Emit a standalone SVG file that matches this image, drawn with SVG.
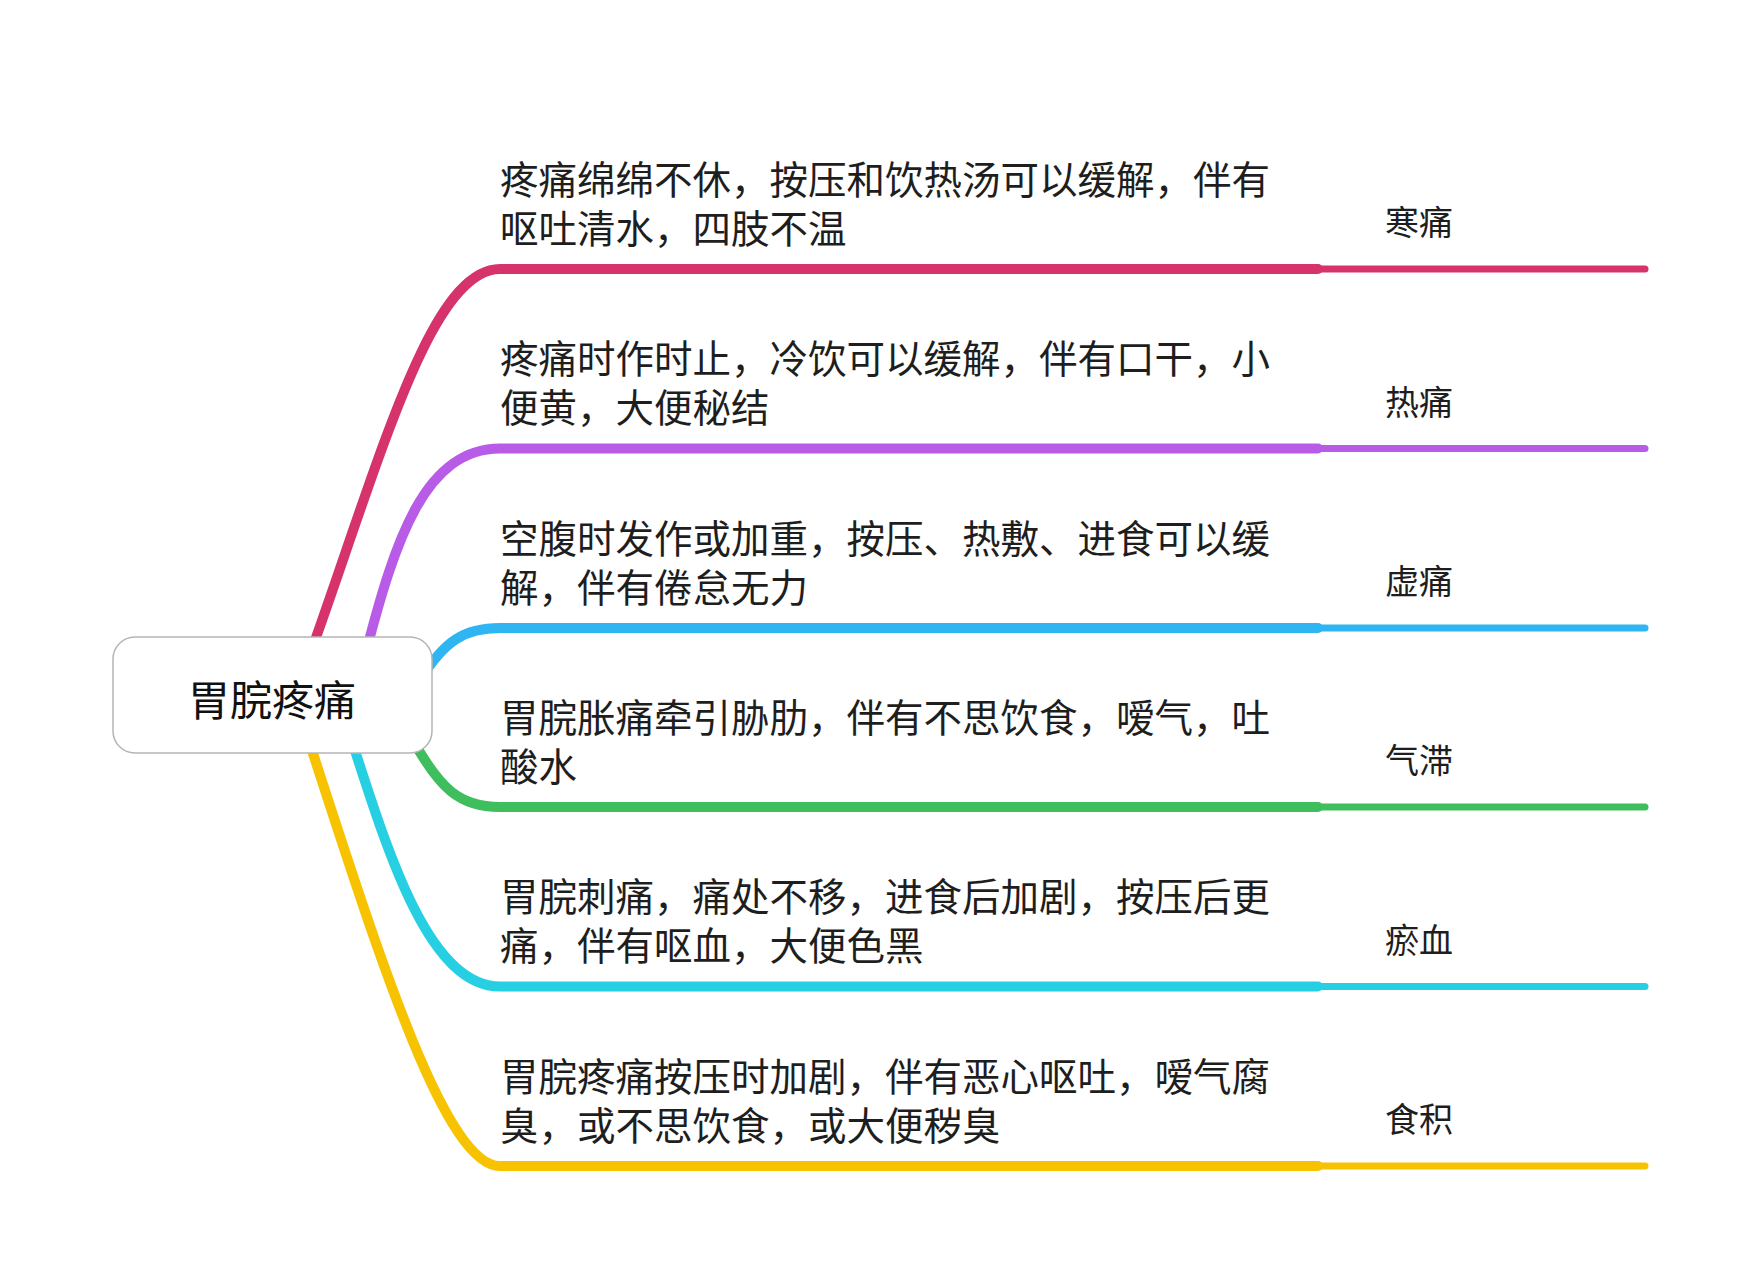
<svg xmlns="http://www.w3.org/2000/svg" width="1760" height="1280" viewBox="0 0 1760 1280">
<style>
.br{fill:none;stroke-width:10;stroke-linecap:round;stroke-linejoin:round}
.tail{fill:none;stroke-width:7;stroke-linecap:round}
.t{font-family:"Noto Sans CJK SC","Noto Sans",sans-serif;font-size:38.5px;fill:#1e1e1e}
.lb{font-family:"Noto Sans CJK SC","Noto Sans",sans-serif;font-size:34px;fill:#1e1e1e}
.title{font-family:"Noto Sans CJK SC","Noto Sans",sans-serif;font-size:42px;fill:#111;text-anchor:middle}
</style>
<rect width="1760" height="1280" fill="#ffffff"/>
<g id="connectors">
<path class="br" stroke="#d6336c" d="M308,660 C380,460 430,269 500,269 L1318,269"/>
<line class="tail" stroke="#d6336c" x1="1318" y1="269" x2="1645" y2="269"/>
<path class="br" stroke="#b85ce8" d="M366,652 C395,540 425,448.5 500,448.5 L1318,448.5"/>
<line class="tail" stroke="#b85ce8" x1="1318" y1="448.5" x2="1645" y2="448.5"/>
<path class="br" stroke="#2fb5f1" d="M420,680 C445,640 465,628 500,628 L1318,628"/>
<line class="tail" stroke="#2fb5f1" x1="1318" y1="628" x2="1645" y2="628"/>
<path class="br" stroke="#3fbe5e" d="M410,735 C440,790 460,807 500,807 L1318,807"/>
<line class="tail" stroke="#3fbe5e" x1="1318" y1="807" x2="1645" y2="807"/>
<path class="br" stroke="#27cfe3" d="M350,735 C390,860 430,986.5 500,986.5 L1318,986.5"/>
<line class="tail" stroke="#27cfe3" x1="1318" y1="986.5" x2="1645" y2="986.5"/>
<path class="br" stroke="#f7c300" d="M307,735 C380,960 445,1166 500,1166 L1318,1166"/>
<line class="tail" stroke="#f7c300" x1="1318" y1="1166" x2="1645" y2="1166"/>
</g>
<g id="root">
<rect x="113" y="637" width="319" height="116" rx="22" fill="#ffffff" stroke="#b5b5b5" stroke-width="1.5"/>
<text class="title" x="272" y="716">胃脘疼痛</text>
</g>
<g id="n1">
<text class="t" x="500" y="193.5">疼痛绵绵不休，按压和饮热汤可以缓解，伴有</text>
<text class="t" x="500" y="242.5">呕吐清水，四肢不温</text>
<text class="lb" x="1385" y="235">寒痛</text>
</g>
<g id="n2">
<text class="t" x="500" y="373">疼痛时作时止，冷饮可以缓解，伴有口干，小</text>
<text class="t" x="500" y="422">便黄，大便秘结</text>
<text class="lb" x="1385" y="414.5">热痛</text>
</g>
<g id="n3">
<text class="t" x="500" y="552.5">空腹时发作或加重，按压、热敷、进食可以缓</text>
<text class="t" x="500" y="601.5">解，伴有倦怠无力</text>
<text class="lb" x="1385" y="594">虚痛</text>
</g>
<g id="n4">
<text class="t" x="500" y="731.5">胃脘胀痛牵引胁肋，伴有不思饮食，嗳气，吐</text>
<text class="t" x="500" y="780.5">酸水</text>
<text class="lb" x="1385" y="773">气滞</text>
</g>
<g id="n5">
<text class="t" x="500" y="911">胃脘刺痛，痛处不移，进食后加剧，按压后更</text>
<text class="t" x="500" y="960">痛，伴有呕血，大便色黑</text>
<text class="lb" x="1385" y="952.5">瘀血</text>
</g>
<g id="n6">
<text class="t" x="500" y="1090.5">胃脘疼痛按压时加剧，伴有恶心呕吐，嗳气腐</text>
<text class="t" x="500" y="1139.5">臭，或不思饮食，或大便秽臭</text>
<text class="lb" x="1385" y="1132">食积</text>
</g>
</svg>
